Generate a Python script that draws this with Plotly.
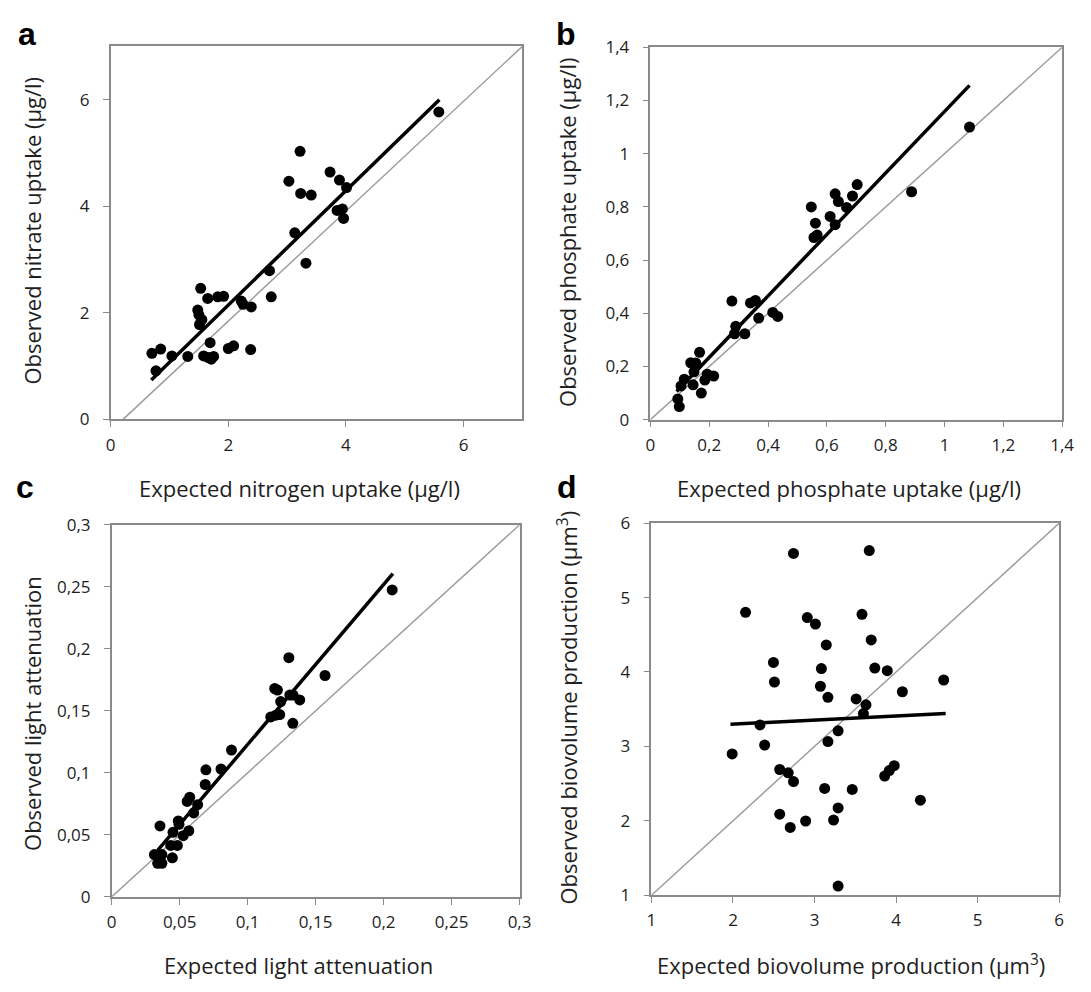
import plotly.graph_objects as go

# page is 1091x992; the browser adds an 8 px body margin, so the figure is 16 px smaller
PAGE_OFF = 8
W, H = 1091 - 2 * PAGE_OFF, 992 - 2 * PAGE_OFF

# ---------------- data ----------------
a_x = [0.70, 0.85, 0.77, 1.04, 1.31, 1.53, 1.48, 1.50, 1.55, 1.51, 1.65, 1.82, 1.92, 1.58, 1.69,
       1.66, 1.75, 1.71, 2.00, 2.09, 2.22, 2.25, 2.39, 2.38, 2.70, 2.73, 3.03, 3.22, 3.13, 3.23,
       3.41, 3.32, 3.73, 3.89, 4.01, 3.85, 3.94, 3.96, 5.58]
a_y = [1.24, 1.32, 0.91, 1.19, 1.18, 2.46, 2.05, 1.96, 1.87, 1.78, 2.27, 2.30, 2.31, 1.19, 1.44,
       1.16, 1.18, 1.13, 1.33, 1.38, 2.22, 2.16, 2.11, 1.31, 2.79, 2.30, 4.47, 5.03, 3.50, 4.24,
       4.21, 2.93, 4.64, 4.49, 4.35, 3.92, 3.95, 3.77, 5.77]
a_fit_x = [0.69, 5.59]
a_fit_y = [0.74, 6.00]
a_diag_x = [0.21, 7.0]
a_diag_y = [0.0, 7.0]

b_x = [0.093, 0.098, 0.104, 0.115, 0.145, 0.137, 0.154, 0.167, 0.148, 0.173, 0.185, 0.193, 0.215,
       0.277, 0.290, 0.286, 0.321, 0.340, 0.357, 0.368, 0.416, 0.433, 0.547, 0.561, 0.556, 0.567,
       0.611, 0.628, 0.639, 0.628, 0.667, 0.687, 0.703, 0.888, 1.085]
b_y = [0.078, 0.049, 0.127, 0.152, 0.131, 0.214, 0.213, 0.253, 0.180, 0.100, 0.149, 0.171, 0.164,
       0.446, 0.351, 0.323, 0.323, 0.439, 0.448, 0.382, 0.403, 0.388, 0.800, 0.739, 0.685, 0.694,
       0.764, 0.849, 0.820, 0.733, 0.798, 0.841, 0.884, 0.857, 1.100]
b_fit_x = [0.089, 1.085]
b_fit_y = [0.106, 1.257]
b_diag_x = [0.0, 1.4]
b_diag_y = [0.0, 1.4]

c_x = [0.0314, 0.0355, 0.0338, 0.0369, 0.0369, 0.0446, 0.0434, 0.0483, 0.0451, 0.0490, 0.0495,
       0.0526, 0.0567, 0.0555, 0.0574, 0.0603, 0.0632, 0.0688, 0.0693, 0.0804, 0.0881, 0.1170,
       0.1199, 0.1219, 0.1207, 0.1236, 0.1243, 0.1303, 0.1310, 0.1334, 0.1383, 0.1332, 0.1569, 0.2063]
c_y = [0.0341, 0.0572, 0.0270, 0.0270, 0.0341, 0.0315, 0.0415, 0.0415, 0.0520, 0.0612, 0.0585,
       0.0493, 0.0533, 0.0769, 0.0803, 0.0677, 0.0743, 0.0906, 0.1024, 0.1031, 0.1184, 0.1451,
       0.1680, 0.1667, 0.1465, 0.1470, 0.1575, 0.1929, 0.1627, 0.1627, 0.1588, 0.1399, 0.1785, 0.2475]
c_fit_x = [0.0338, 0.2068]
c_fit_y = [0.0375, 0.2606]
c_diag_x = [0.0, 0.3]
c_diag_y = [0.0, 0.3]

d_x = [2.742, 3.671, 2.154, 2.911, 3.011, 3.582, 3.144, 3.695, 2.496, 3.084, 3.739, 3.892, 2.508,
       4.584, 3.072, 4.077, 3.164, 3.510, 3.631, 3.599, 2.331, 3.289, 3.164, 2.388, 1.990, 2.573,
       2.677, 2.742, 3.860, 3.916, 3.977, 3.124, 3.462, 4.298, 2.573, 3.289, 2.702, 2.891, 3.233, 3.289]
d_y = [5.593, 5.632, 4.801, 4.731, 4.644, 4.775, 4.364, 4.430, 4.128, 4.045, 4.053, 4.018, 3.865,
       3.892, 3.808, 3.734, 3.660, 3.638, 3.559, 3.441, 3.288, 3.209, 3.065, 3.017, 2.899, 2.689,
       2.645, 2.527, 2.601, 2.675, 2.741, 2.435, 2.422, 2.277, 2.089, 2.172, 1.910, 1.997, 2.010, 1.122]
d_fit_x = [1.969, 4.608]
d_fit_y = [3.297, 3.441]
d_diag_x = [1.0, 6.0]
d_diag_y = [1.0, 6.0]

a_ticks = [0, 2, 4, 6]
a_ticktext = ["0", "2", "4", "6"]
b_ticks = [0, 0.2, 0.4, 0.6, 0.8, 1.0, 1.2, 1.4]
b_ticktext = ["0", "0,2", "0,4", "0,6", "0,8", "1", "1,2", "1,4"]
c_ticks = [0, 0.05, 0.1, 0.15, 0.2, 0.25, 0.3]
c_ticktext = ["0", "0,05", "0,1", "0,15", "0,2", "0,25", "0,3"]
d_ticks = [1, 2, 3, 4, 5, 6]
d_ticktext = ["1", "2", "3", "4", "5", "6"]

# ---------------- figure ----------------
FONT = "Open Sans"
AXIS_GRAY = "#8a8a8a"
DIAG_GRAY = "#9a9a9a"
TEXT_COLOR = "#1e1e1e"

fig = go.Figure()

panels = [
    ("x", "y", a_x, a_y, a_fit_x, a_fit_y, a_diag_x, a_diag_y),
    ("x2", "y2", b_x, b_y, b_fit_x, b_fit_y, b_diag_x, b_diag_y),
    ("x3", "y3", c_x, c_y, c_fit_x, c_fit_y, c_diag_x, c_diag_y),
    ("x4", "y4", d_x, d_y, d_fit_x, d_fit_y, d_diag_x, d_diag_y),
]
for xa, ya, px, py, fx, fy, dx, dy in panels:
    fig.add_trace(go.Scatter(x=dx, y=dy, mode="lines", xaxis=xa, yaxis=ya,
                             line=dict(color=DIAG_GRAY, width=1.4), showlegend=False, hoverinfo="skip"))
    fig.add_trace(go.Scatter(x=fx, y=fy, mode="lines", xaxis=xa, yaxis=ya,
                             line=dict(color="black", width=3.5), showlegend=False, hoverinfo="skip"))
    fig.add_trace(go.Scatter(x=px, y=py, mode="markers", xaxis=xa, yaxis=ya,
                             marker=dict(color="black", size=11), showlegend=False))


def px2x(p):
    return (p - PAGE_OFF) / W


def px2y(p):
    return 1 - (p - PAGE_OFF) / H


def axis(domain, rng, tv, tt, anchor, standoff):
    return dict(domain=domain, range=rng, tickvals=tv, ticktext=tt, anchor=anchor,
                showgrid=False, zeroline=False, showline=True, linecolor=AXIS_GRAY, linewidth=1.5,
                mirror=True, ticks="outside", ticklen=6, tickcolor=AXIS_GRAY, tickwidth=1.2,
                ticklabelstandoff=standoff,
                tickfont=dict(family=FONT, size=17, color=TEXT_COLOR), fixedrange=True)


fig.update_layout(
    width=W, height=H, margin=dict(l=0, r=0, t=0, b=0),
    paper_bgcolor="white", plot_bgcolor="white",
    xaxis=axis([px2x(107.3), px2x(525.5)], [0, 7], a_ticks, a_ticktext, "y", 3),
    yaxis=axis([px2y(417), px2y(35)], [0, 7], a_ticks, a_ticktext, "x", 10),
    xaxis2=axis([px2x(655.7), px2x(1074)], [0, 1.4], b_ticks, b_ticktext, "y2", 3),
    yaxis2=axis([px2y(417.3), px2y(36)], [0, 1.4], b_ticks, b_ticktext, "x2", 10),
    xaxis3=axis([px2x(108.3), px2x(522.7)], [0, 0.3], c_ticks, c_ticktext, "y3", 3),
    yaxis3=axis([px2y(906), px2y(525)], [0, 0.3], c_ticks, c_ticktext, "x3", 10),
    xaxis4=axis([px2x(656.7), px2x(1071)], [1, 6], d_ticks, d_ticktext, "y4", 3),
    yaxis4=axis([px2y(904.3), px2y(523.3)], [1, 6], d_ticks, d_ticktext, "x4", 10),
)

TITLE_FONT = dict(family=FONT, size=22, color=TEXT_COLOR)
titles = [
    ("Expected nitrogen uptake (µg/l)", 299, 487, 0),
    ("Observed nitrate uptake (µg/l)", 27, 224, -90),
    ("Expected phosphate uptake (µg/l)", 857, 487, 0),
    ("Observed phosphate uptake (µg/l)", 571, 226, -90),
    ("Expected light attenuation", 298, 976, 0),
    ("Observed light attenuation", 28, 718, -90),
    ("Expected biovolume production (µm<sup>3</sup>)", 859, 975, 0),
    ("Observed biovolume production (µm<sup>3</sup>)", 571, 712, -90),
]
for text, cx, cy, ang in titles:
    fig.add_annotation(text=text, x=px2x(cx), y=px2y(cy), xref="paper", yref="paper",
                       showarrow=False, textangle=ang, xanchor="center", yanchor="middle",
                       font=TITLE_FONT)

labels = [("a", 22, 22), ("b", 570, 22), ("c", 20, 486), ("d", 571, 486)]
for t, cx, cy in labels:
    fig.add_annotation(text="<b>%s</b>" % t, x=px2x(cx), y=px2y(cy), xref="paper", yref="paper",
                       showarrow=False, xanchor="center", yanchor="middle",
                       font=dict(family="Liberation Sans", size=32, color="black"))

fig.write_html("out.html")
